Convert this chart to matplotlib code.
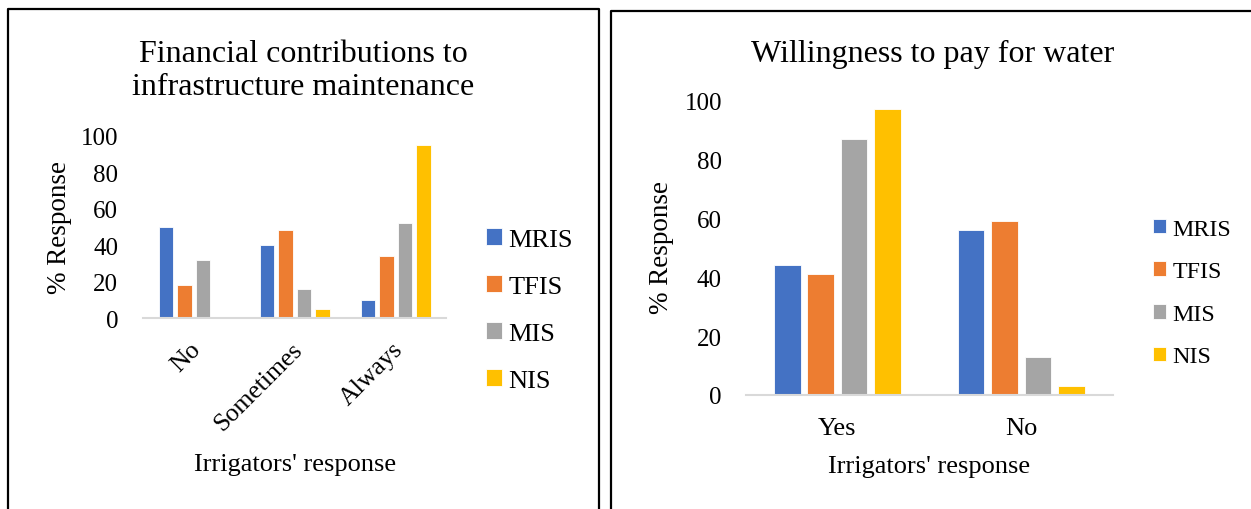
import matplotlib
matplotlib.use("Agg")
import matplotlib.pyplot as plt
from matplotlib.lines import Line2D
import numpy as np

plt.rcParams['font.family'] = ['Liberation Serif', 'DejaVu Serif']

# Series names and colours
schemes = ["MRIS", "TFIS", "MIS", "NIS"]
colors = ["#4472C4", "#ED7D31", "#A5A5A5", "#FFC000"]

# Financial contributions to infrastructure maintenance (% response)
contrib_cats = ["No", "Sometimes", "Always"]
contrib_mris = [50, 40, 10]
contrib_tfis = [18, 48, 34]
contrib_mis = [32, 16, 52]
contrib_nis = [0, 5, 95]

# Willingness to pay for water (% response)
pay_cats = ["Yes", "No"]
pay_mris = [44, 56]
pay_tfis = [41, 59]
pay_mis = [87, 13]
pay_nis = [97, 3]

W, H = 1251, 510
fig = plt.figure(figsize=(W / 100, H / 100), dpi=100)
fig.patch.set_facecolor("white")


def fx(px):
    return px / W


def fy(py):
    return 1 - py / H


# Panel frames
frame_kw = dict(color="black", linewidth=1.6, transform=fig.transFigure)
fig.add_artist(Line2D([fx(8), fx(8), fx(599), fx(599)],
                      [fy(520), fy(10), fy(10), fy(520)], **frame_kw))
fig.add_artist(Line2D([fx(611), fx(611), fx(1260)],
                      [fy(520), fy(12), fy(12)], **frame_kw))

BAR_W = 0.145
STEP = 0.182


def draw_panel(ax, cats, series, tick_fs):
    x = np.arange(len(cats))
    handles = []
    for i, (vals, col, name) in enumerate(zip(series, colors, schemes)):
        b = ax.bar(x + (i - 1.5) * STEP, vals, width=BAR_W, color=col,
                   edgecolor="white", linewidth=0.6, label=name, zorder=2)
        handles.append(b)
    ax.set_xlim(-0.5, len(cats) - 0.5)
    ax.set_ylim(0, 100)
    ax.set_yticks([0, 20, 40, 60, 80, 100])
    for s in ["top", "right", "left"]:
        ax.spines[s].set_visible(False)
    ax.spines["bottom"].set_color("#D9D9D9")
    ax.spines["bottom"].set_linewidth(1.5)
    ax.spines["bottom"].set_zorder(3)
    ax.tick_params(axis="both", length=0, labelsize=tick_fs)
    ax.set_facecolor("none")
    return handles


# Left panel
ax1 = fig.add_axes([fx(143.2), fy(319), fx(446.2) - fx(143.2), (319 - 136.7) / H])
h1 = draw_panel(ax1, contrib_cats,
                [contrib_mris, contrib_tfis, contrib_mis, contrib_nis], 18)
ax1.tick_params(axis="y", pad=18)
ax1.set_xticks(np.arange(len(contrib_cats)) + 0.04)
ax1.set_xticklabels(contrib_cats, rotation=45, ha="right", va="center",
                    rotation_mode="anchor", fontsize=18.5)
ax1.tick_params(axis="x", pad=20)
fig.text(fx(303), fy(71), "Financial contributions to\ninfrastructure maintenance",
         ha="center", va="center", fontsize=23, linespacing=1.2)
fig.text(fx(60), fy(228), "% Response", rotation=90, ha="center", va="center",
         fontsize=19.5)
fig.text(fx(295), fy(465), "Irrigators' response", ha="center", va="center",
         fontsize=19)
fig.legend(handles=h1, labels=schemes, loc="center left",
           bbox_to_anchor=(fx(486), fy(311)), frameon=False, fontsize=19,
           handlelength=0.6, handleheight=0.6, handletextpad=0.25,
           labelspacing=0.92, borderaxespad=0, borderpad=0)

# Right panel
ax2 = fig.add_axes([fx(745.6), fy(396), fx(1113) - fx(745.6), (396 - 101.2) / H])
h2 = draw_panel(ax2, pay_cats, [pay_mris, pay_tfis, pay_mis, pay_nis], 18)
ax2.tick_params(axis="y", pad=17)
ax2.set_xticks(np.arange(len(pay_cats)))
ax2.set_xticklabels(pay_cats, fontsize=19)
ax2.tick_params(axis="x", pad=16)
fig.text(fx(933), fy(54), "Willingness to pay for water",
         ha="center", va="center", fontsize=23)
fig.text(fx(661), fy(248), "% Response", rotation=90, ha="center", va="center",
         fontsize=19.5)
fig.text(fx(929), fy(467), "Irrigators' response", ha="center", va="center",
         fontsize=19)
fig.legend(handles=h2, labels=schemes, loc="center left",
           bbox_to_anchor=(fx(1153), fy(294)), frameon=False, fontsize=17.3,
           handlelength=0.55, handleheight=0.55, handletextpad=0.25,
           labelspacing=0.9, borderaxespad=0, borderpad=0)

fig.savefig("out.png", dpi=100, facecolor="white")
